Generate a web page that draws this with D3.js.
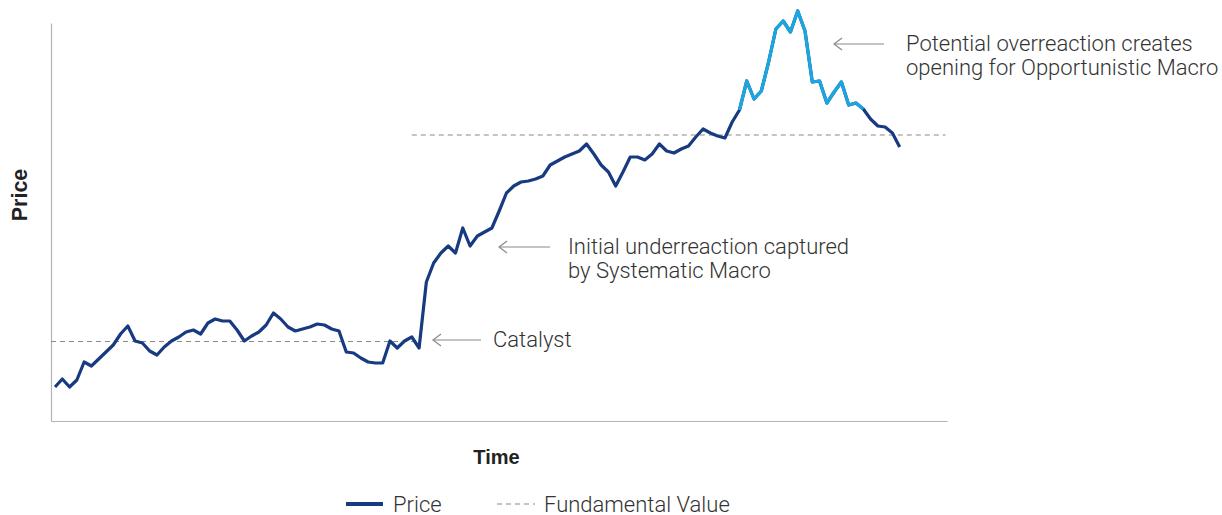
<!DOCTYPE html>
<html>
<head>
<meta charset="utf-8">
<script src="https://cdn.jsdelivr.net/npm/d3@7"></script>
<style>
  body { margin: 0; background: #fff; }
  svg text { font-family: Roboto, "Liberation Sans", sans-serif; }
  svg text.title { font-family: "Liberation Sans", Arial, sans-serif; }
</style>
</head>
<body>
<svg id="chart" width="1222" height="515"></svg>
<script>
// price path, one value per time step (arbitrary units, no ticks shown)
const price = [
  34, 42, 34, 41, 59, 55, 62, 69, 76, 87,
  95, 80, 78, 70, 66, 74, 80, 84, 89, 91,
  87, 98, 102, 100, 100, 91, 80, 85, 89, 96,
  108, 102, 94, 90, 92, 94, 97, 96, 92, 90,
  69, 68, 63, 59, 58, 58, 80, 73, 80, 84,
  73, 139, 158, 168, 175, 168, 193, 175, 185, 189,
  193, 210, 228, 235, 239, 240, 242, 245, 256, 260,
  264, 267, 270, 277, 267, 256, 249, 235, 249, 264,
  264, 261, 267, 277, 270, 268, 272, 275, 284, 292,
  288, 285, 283, 299, 311, 340, 322, 330, 359, 392,
  400, 389, 410, 390, 339, 340, 318, 329, 339, 316,
  318, 312, 302, 295, 294, 288, 274
];
// stretch of the path drawn as the "overreaction"
const overreaction = [94, 111];

// fundamental value, step before / after the catalyst
const fundamental = [
  { from: -0.55, to: 50, value: 79.5 },
  { from: 49, to: 122.3, value: 286 }
];

const annotations = [
  { at: 340, x1: 433, x2: 481, tx: 493, lines: ["Catalyst"] },
  { at: 247, x1: 499, x2: 550, tx: 568, lines: ["Initial underreaction captured", "by Systematic Macro"] },
  { at: 44, x1: 834, x2: 884, tx: 906, lines: ["Potential overreaction creates", "opening for Opportunistic Macro"] }
];

const svg = d3.select('#chart');

const x = d3.scaleLinear().domain([-0.55, 122.5]).range([51, 947]);
const y = d3.scaleLinear().domain([0, 398]).range([421, 23]);

const dark = '#173a80', light = '#1aa6e0', grey = '#8a8a8a', ink = '#333';

// axes: plain lines, no ticks
svg.append('g')
    .attr('transform', 'translate(' + x.range()[0] + ',0)')
    .call(d3.axisLeft(y).tickValues([]).tickSizeOuter(0))
    .call(g => g.select('.domain').attr('stroke', '#b3b3b3').attr('stroke-width', 1.2));
svg.append('g')
    .attr('transform', 'translate(0,' + y.range()[0] + ')')
    .call(d3.axisBottom(x).tickValues([]).tickSizeOuter(0))
    .call(g => g.select('.domain').attr('stroke', '#b3b3b3').attr('stroke-width', 1.2));

// fundamental value
svg.selectAll('.fund')
    .data(fundamental)
    .enter().append('line')
    .attr('class', 'fund')
    .attr('x1', d => x(d.from))
    .attr('x2', d => x(d.to))
    .attr('y1', d => y(d.value))
    .attr('y2', d => y(d.value))
    .attr('stroke', grey)
    .attr('stroke-width', 1.2)
    .attr('stroke-dasharray', '5,4');

let line = d3.line()
    .x((d, i) => x(i))
    .y(d => y(d));

svg.append('path')
    .datum(price)
    .attr('d', line)
    .attr('fill', 'none')
    .attr('stroke', dark)
    .attr('stroke-width', 3.2)
    .attr('stroke-linejoin', 'round');

let hi = d3.line()
    .x(d => x(d))
    .y(d => y(price[d]));

svg.append('path')
    .datum(d3.range(overreaction[0], overreaction[1] + 1))
    .attr('d', hi)
    .attr('fill', 'none')
    .attr('stroke', light)
    .attr('stroke-width', 3.2)
    .attr('stroke-linejoin', 'round');

// annotation arrows + text
let ann = svg.selectAll('.ann')
    .data(annotations)
    .enter().append('g')
    .attr('class', 'ann');

ann.append('line')
    .attr('x1', d => d.x1).attr('x2', d => d.x2)
    .attr('y1', d => d.at).attr('y2', d => d.at)
    .attr('stroke', grey).attr('stroke-width', 1.2);
ann.append('path')
    .attr('d', d => 'M' + (d.x1 + 8) + ',' + (d.at - 6) + 'L' + d.x1 + ',' + d.at + 'L' + (d.x1 + 8) + ',' + (d.at + 6))
    .attr('fill', 'none')
    .attr('stroke', grey).attr('stroke-width', 1.2);

ann.each(function(d) {
    let t = d3.select(this).append('text')
        .attr('x', d.tx)
        .attr('y', d.at + 7)
        .attr('font-size', 22)
        .attr('font-weight', 300)
        .attr('fill', ink);
    d.lines.forEach(function(s, i) {
        t.append('tspan').attr('x', d.tx).attr('dy', i ? 24.3 : 0).text(s);
    });
});

// axis titles
svg.append('text')
    .attr('class', 'title')
    .attr('transform', 'translate(26.7,195) rotate(-90)')
    .attr('text-anchor', 'middle')
    .attr('font-size', 21.5).attr('font-weight', 700).attr('fill', '#222')
    .text('Price');
svg.append('text')
    .attr('class', 'title')
    .attr('x', 496.5).attr('y', 464)
    .attr('text-anchor', 'middle')
    .attr('font-size', 20).attr('font-weight', 700).attr('fill', '#222')
    .text('Time');

// legend
let legend = svg.append('g').attr('transform', 'translate(0,504)');
legend.append('line')
    .attr('x1', 346).attr('x2', 383).attr('y1', 0).attr('y2', 0)
    .attr('stroke', dark).attr('stroke-width', 4);
legend.append('text')
    .attr('x', 393).attr('y', 8)
    .attr('font-size', 22).attr('font-weight', 300).attr('fill', ink)
    .text('Price');
legend.append('line')
    .attr('x1', 497).attr('x2', 535).attr('y1', 0).attr('y2', 0)
    .attr('stroke', grey).attr('stroke-width', 1.2).attr('stroke-dasharray', '5,4');
legend.append('text')
    .attr('x', 544).attr('y', 8)
    .attr('font-size', 22).attr('font-weight', 300).attr('fill', ink)
    .text('Fundamental Value');
</script>
</body>
</html>
